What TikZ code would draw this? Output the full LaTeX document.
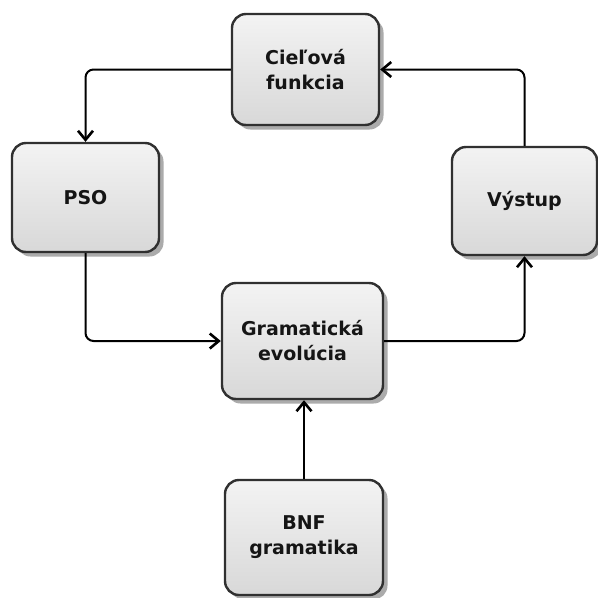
\documentclass[tikz,border=0pt]{standalone}
\usepackage{fontspec}
\setmainfont{DejaVu Sans}
\usetikzlibrary{arrows.meta,shadows}
\definecolor{boxline}{HTML}{303030}
\definecolor{boxtop}{HTML}{F3F3F3}
\definecolor{boxbottom}{HTML}{D8D8D8}
\definecolor{shadowgray}{HTML}{ABABAB}
\definecolor{txt}{HTML}{151515}
\begin{document}
\begin{tikzpicture}[x=1pt,y=-1pt,
  block/.style={rectangle, rounded corners=14pt, draw=boxline, line width=2.4pt,
    top color=boxtop, bottom color=boxbottom,
    drop shadow={shadow xshift=4.5pt, shadow yshift=-4.5pt, fill=shadowgray, opacity=1},
    align=center, text=txt, inner sep=0pt,
    font=\fontsize{19}{25}\selectfont\bfseries},
  link/.style={line width=2pt, black, rounded corners=8pt,
    -{Straight Barb[length=9pt,width=15pt,line width=2.6pt]}}]
\useasboundingbox (0,0) rectangle (598,598);

\node[block, minimum width=147pt, minimum height=111pt] (cil) at (305.5,69.5) {Cieľová\\funkcia};
\node[block, minimum width=147pt, minimum height=109pt] (pso) at (85.5,197.5) {PSO};
\node[block, minimum width=145pt, minimum height=108pt] (vys) at (524.5,201) {Výstup};
\node[block, minimum width=161pt, minimum height=116pt] (gra) at (302.5,341) {Gramatická\\evolúcia};
\node[block, minimum width=158pt, minimum height=115pt] (bnf) at (304,537.5) {BNF\\gramatika};

\draw[link] (cil.west) -| (pso.north);
\draw[link] (pso.south) |- (gra.west);
\draw[link] (gra.east) -| (vys.south);
\draw[link] (vys.north) |- (cil.east);
\draw[link] (bnf.north) -- (bnf.north |- gra.south);
\end{tikzpicture}
\end{document}
